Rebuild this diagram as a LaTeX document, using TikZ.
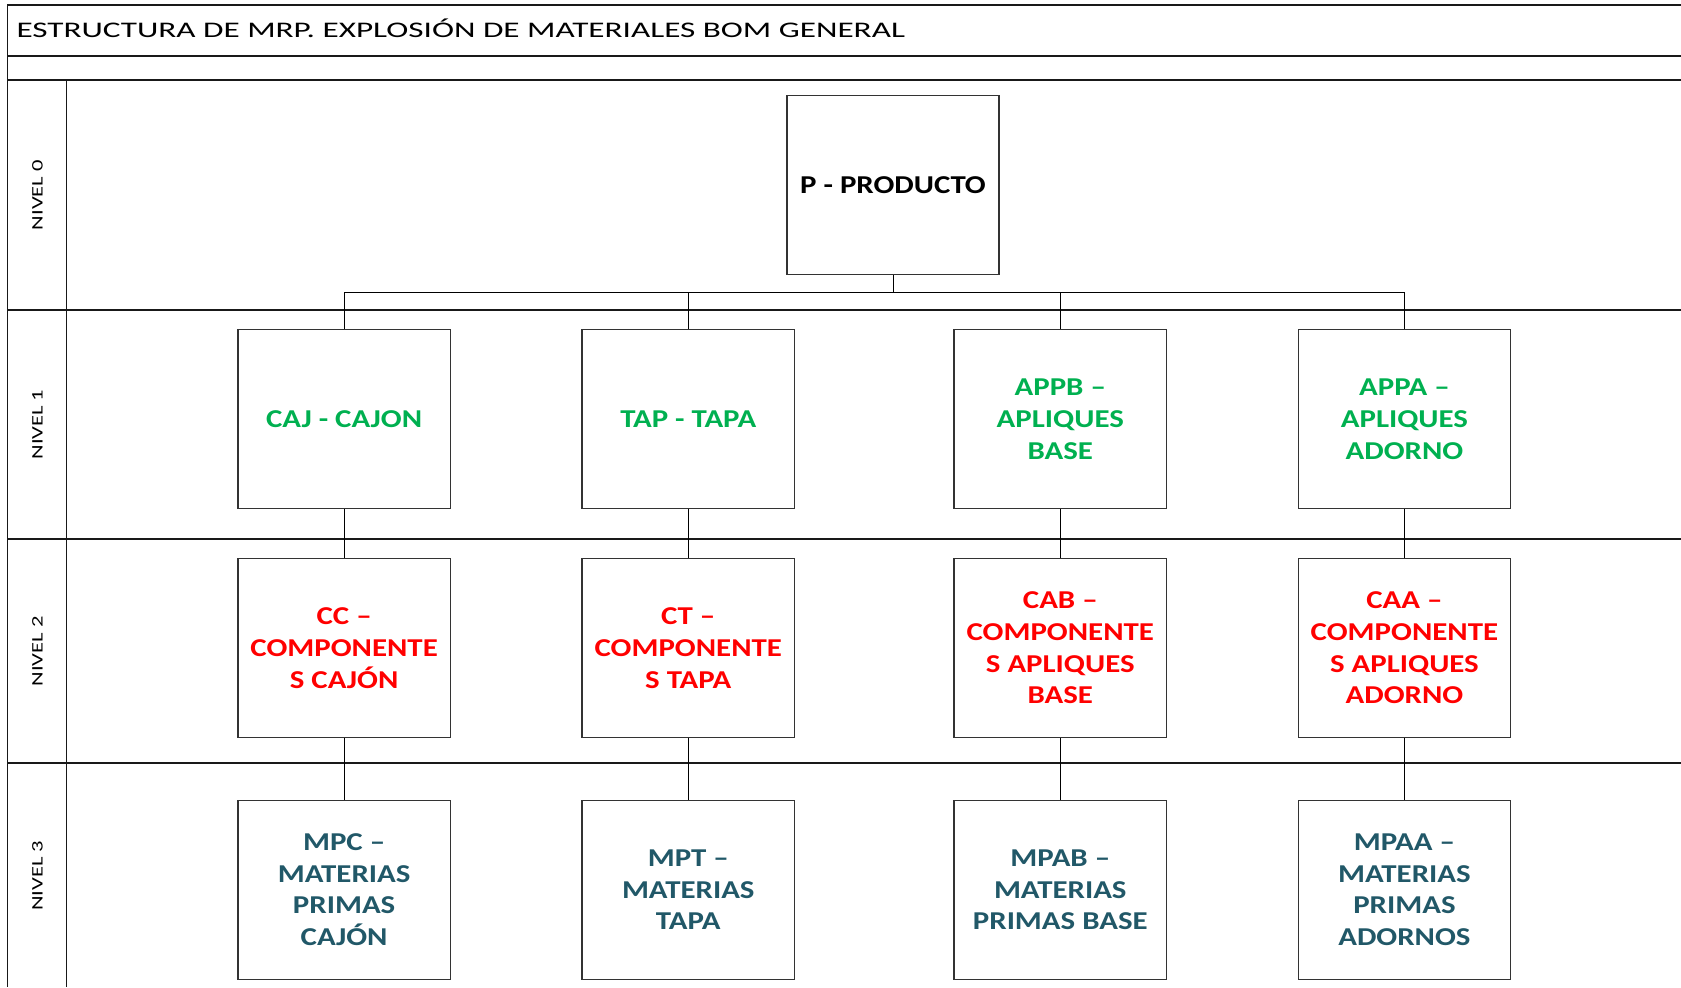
\documentclass[tikz,border=0pt]{standalone}
\usepackage{fontspec}
\setmainfont{Carlito}[FakeStretch=1.2]
\newfontfamily\titulofont{Carlito}[FakeStretch=1.49]
\newfontfamily\nivelfont{Carlito}[FakeStretch=1.4]
\definecolor{verdebom}{HTML}{00B050}
\definecolor{rojobom}{HTML}{FF0000}
\definecolor{azulbom}{HTML}{215868}
\tikzset{
	marco/.style={line width=0.9pt, color=black!90},
	enlace/.style={line width=0.5pt, color=black},
	caja/.style={draw=black!80, line width=0.7pt, minimum width=99pt, minimum height=83.5pt, inner sep=0pt, align=center, font=\fontsize{12}{14.75}\selectfont\bfseries},
	nivel/.style={rotate=90, inner sep=0pt, font=\nivelfont\fontsize{7.5}{8}\selectfont}
}

\begin{document}
\begin{tikzpicture}[x=0.5pt, y=-0.5pt]
		%%%%% START %%%%%
		\useasboundingbox (0, 0) rectangle (1568, 921);
		
		\draw[marco] (1568, 5) -- (7, 5) -- (7, 921);
		\draw[marco] (7, 52) -- (1568, 52);
		\draw[marco] (7, 75) -- (1568, 75);
		\draw[marco] (62, 75) -- (62, 921);
		\draw[marco] (7, 289) -- (1568, 289);
		\draw[marco] (7, 503) -- (1568, 503);
		\draw[marco] (7, 712) -- (1568, 712);
		
		\node[anchor=base west, inner sep=0pt, font=\titulofont\fontsize{10.4}{12}\selectfont] (titulo) at (15, 35) {ESTRUCTURA DE MRP. EXPLOSIÓN DE MATERIALES BOM GENERAL};
		
		\node[nivel] (nivel0) at (35, 182) {NIVEL 0};
		\node[nivel] (nivel1) at (35, 396) {NIVEL 1};
		\node[nivel] (nivel2) at (35, 607.5) {NIVEL 2};
		\node[nivel] (nivel3) at (35, 817) {NIVEL 3};
		
		\node[caja] (p) at (833, 172.5) {P - PRODUCTO};
		
		\node[caja, text=verdebom] (caj) at (321, 391) {CAJ - CAJON};
		\node[caja, text=verdebom] (tap) at (642, 391) {TAP - TAPA};
		\node[caja, text=verdebom] (appb) at (989, 391) {APPB --\\APLIQUES\\BASE};
		\node[caja, text=verdebom] (appa) at (1310, 391) {APPA --\\APLIQUES\\ADORNO};
		
		\node[caja, text=rojobom] (cc) at (321, 604.5) {CC --\\COMPONENTE\\S CAJÓN};
		\node[caja, text=rojobom] (ct) at (642, 604.5) {CT --\\COMPONENTE\\S TAPA};
		\node[caja, text=rojobom] (cab) at (989, 604.5) {CAB --\\COMPONENTE\\S APLIQUES\\BASE};
		\node[caja, text=rojobom] (caa) at (1310, 604.5) {CAA --\\COMPONENTE\\S APLIQUES\\ADORNO};
		
		\node[caja, text=azulbom] (mpc) at (321, 830) {MPC --\\MATERIAS\\PRIMAS\\CAJÓN};
		\node[caja, text=azulbom] (mpt) at (642, 830) {MPT --\\MATERIAS\\TAPA};
		\node[caja, text=azulbom] (mpab) at (989, 830) {MPAB --\\MATERIAS\\PRIMAS BASE};
		\node[caja, text=azulbom] (mpaa) at (1310, 830) {MPAA --\\MATERIAS\\PRIMAS\\ADORNOS};
		
		\coordinate (bus) at (833, 273);
		\draw[enlace] (p.south) -- (bus);
		\draw[enlace] (caj.north) |- (bus) -| (appa.north);
		\draw[enlace] (tap.north) |- (bus);
		\draw[enlace] (appb.north) |- (bus);
		
		\draw[enlace] (caj) -- (cc);
		\draw[enlace] (tap) -- (ct);
		\draw[enlace] (appb) -- (cab);
		\draw[enlace] (appa) -- (caa);
		
		\draw[enlace] (cc) -- (mpc);
		\draw[enlace] (ct) -- (mpt);
		\draw[enlace] (cab) -- (mpab);
		\draw[enlace] (caa) -- (mpaa);
		%%%%% END %%%%%
	\end{tikzpicture}
\end{document}
